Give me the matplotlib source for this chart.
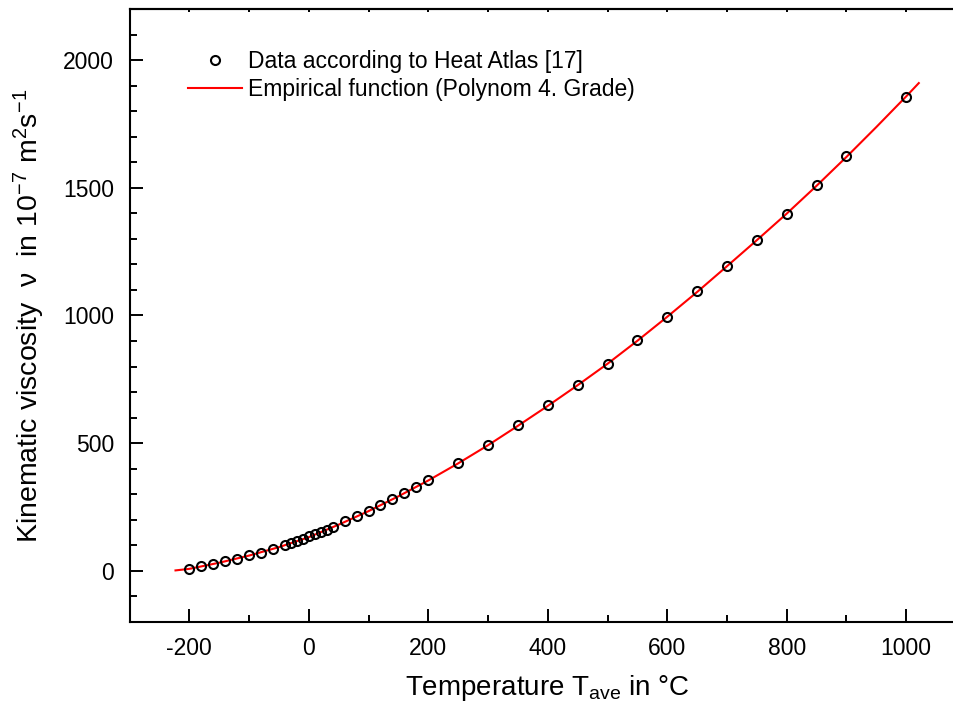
import numpy as np
import matplotlib
matplotlib.use("Agg")
import matplotlib.pyplot as plt
from matplotlib.ticker import MultipleLocator, NullLocator

plt.rcParams['font.family'] = ['Liberation Sans', 'DejaVu Sans']
plt.rcParams['mathtext.fontset'] = 'custom'
plt.rcParams['mathtext.rm'] = 'Liberation Sans'
plt.rcParams['mathtext.default'] = 'regular'
plt.rcParams['axes.unicode_minus'] = False

# Data according to Heat Atlas (kinematic viscosity in 1e-7 m^2/s)
temp_data = [-200, -180, -160, -140, -120, -100, -80, -60, -40, -30, -20, -10,
             0, 10, 20, 30, 40, 60, 80, 100, 120, 140, 160, 180, 200,
             250, 300, 350, 400, 450, 500, 550, 600, 650, 700, 750, 800,
             850, 900, 1000]
visc_data = [7, 19, 29, 38, 48, 61, 72, 87, 103, 110, 118, 126,
             135, 143, 152, 160, 170, 196, 216, 236, 259, 283, 305, 329, 356,
             422, 492, 571, 648, 727, 812, 903, 996, 1094, 1195, 1295, 1399,
             1509, 1623, 1857]

# Empirical function (polynomial, 4th grade)
temp_fit = [-223, -200, -150, -100, -50, 0, 50, 100, 150, 200, 250, 300, 350,
            400, 450, 500, 550, 600, 650, 700, 750, 800, 850, 900, 950, 1000, 1021]
visc_fit = [2, 8, 32, 60, 93, 132, 181, 234, 292, 354, 421, 492, 568,
            646, 727, 811, 901, 995, 1092, 1193, 1295, 1399, 1508, 1621, 1738, 1858, 1910]

x_major = [-200, 0, 200, 400, 600, 800, 1000]
y_major = [0, 500, 1000, 1500, 2000]

fig = plt.figure(figsize=(9.54, 7.15), dpi=100)
ax = fig.add_axes([129.5 / 954, (715 - 622) / 715, (966 - 129.5) / 954, (622 - 9) / 715])

ax.plot(temp_fit, visc_fit, color='#ff0000', lw=1.5, zorder=2,
        label='Empirical function (Polynom 4. Grade)')
ax.plot(temp_data, visc_data, linestyle='none', marker='o', ms=6.5, mfc='none',
        mec='black', mew=1.5, zorder=3, label='Data according to Heat Atlas [17]')

ax.set_xlim(-300, 1100)
ax.set_ylim(-200, 2200)
ax.set_xticks(x_major)
ax.set_yticks(y_major)
ax.xaxis.set_minor_locator(MultipleLocator(100))
ax.yaxis.set_minor_locator(MultipleLocator(100))
ax.tick_params(which='major', direction='in', length=9.4, width=1.4,
               labelsize=16.5, pad=11)
ax.tick_params(which='minor', direction='in', length=5, width=1.4)
ax.tick_params(top=False, right=False)
for s in ax.spines.values():
    s.set_linewidth(1.5)
ax.spines['right'].set_visible(False)

sec = ax.secondary_xaxis('top')
sec.set_xticks(np.arange(-300, 1101, 100))
sec.xaxis.set_minor_locator(NullLocator())
sec.tick_params(direction='in', length=2.5, width=1.4, labeltop=False)
sec.spines['top'].set_linewidth(1.5)

ax.set_xlabel('Temperature T$_{ave}$ in °C', fontsize=20, labelpad=9)
ax.set_ylabel('Kinematic viscosity  ν  in 10$^{-7}$ m$^{2}$s$^{-1}$', fontsize=20.5, labelpad=12)

handles, labels = ax.get_legend_handles_labels()
ax.legend(handles[::-1], labels[::-1], loc='upper left',
          bbox_to_anchor=((188 - 129.5) / 836.5, (622 - 50) / 613),
          frameon=False, borderpad=0, borderaxespad=0, fontsize=16.5,
          handlelength=2.35, handletextpad=0.26, labelspacing=0.2)

fig.savefig('out.png', dpi=100)
